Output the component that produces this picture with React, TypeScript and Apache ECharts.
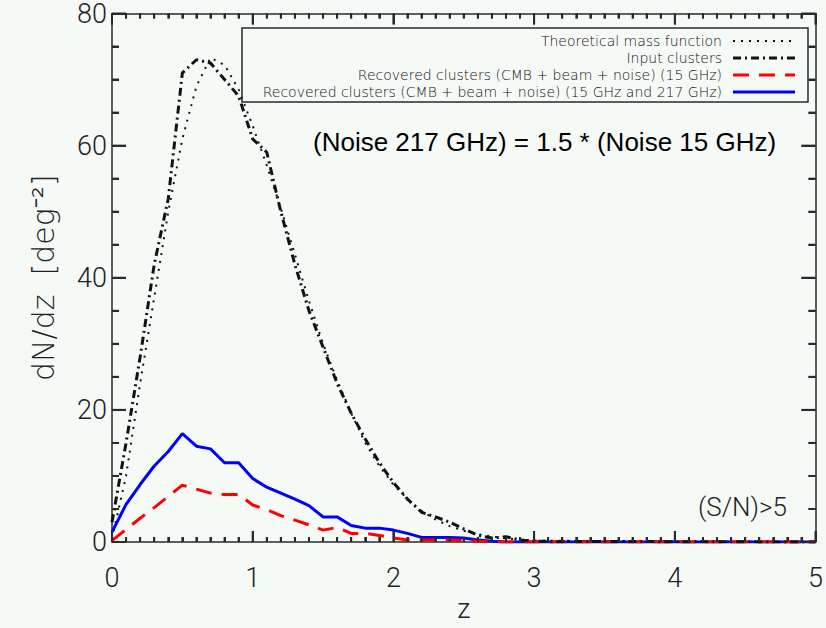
import React, { useEffect, useRef } from "react";
import * as echarts from "echarts";

// redshift grid (z) of the curves
const zValues = [
  0, 0.1, 0.2, 0.3, 0.4, 0.5, 0.6, 0.7, 0.8, 0.9,
  1.0, 1.1, 1.2, 1.3, 1.4, 1.5, 1.6, 1.7, 1.8, 1.9,
  2.0, 2.1, 2.2, 2.3, 2.4, 2.5, 2.6, 2.7, 2.8, 2.9,
  3.0, 5.0,
];

const theoretical = [
  0.5, 10, 24, 37, 50, 61, 69, 73.3, 72.2, 68.5,
  63, 57, 50.5, 43.5, 36.5, 30, 24.5, 19.5, 15, 11.5,
  8.7, 6.5, 4.7, 3.4, 2.4, 1.7, 1.2, 0.8, 0.55, 0.38,
  0.2, 0,
];

const inputClusters = [
  3, 15, 28, 42, 52, 71, 73, 72.5, 70, 67.5,
  61, 59, 50, 42, 35, 29.5, 24, 19.5, 15.6, 12,
  9, 6.5, 4.5, 3.8, 3, 2, 1, 0.6, 0.8, 0.3,
  0.1, 0,
];

const recovered15 = [
  0.2, 1.9, 3.6, 5.2, 6.9, 8.6, 8.0, 7.4, 7.2, 7.2,
  5.6, 4.9, 4.0, 3.3, 2.6, 1.8, 2.2, 1.3, 1.3, 1.0,
  0.6, 0.3, 0.3, 0.3, 0.3, 0.2, 0.1, 0, 0, 0,
  0, 0,
];

const recovered15and217 = [
  1.5, 5.7, 8.7, 11.5, 13.7, 16.4, 14.5, 14.1, 12.0, 12.0,
  9.6, 8.3, 7.4, 6.5, 5.5, 3.8, 3.8, 2.5, 2.1, 2.1,
  1.8, 1.3, 0.7, 0.7, 0.7, 0.6, 0.3, 0.1, 0, 0,
  0, 0,
];

const legendLabels = [
  "Theoretical mass function",
  "Input clusters",
  "Recovered clusters (CMB + beam + noise) (15 GHz)",
  "Recovered clusters (CMB + beam + noise) (15 GHz and 217 GHz)",
];

const xRange = { min: 0, max: 5, interval: 1, minorSteps: 10 };
const yRange = { min: 0, max: 80, interval: 20, minorSteps: 4 };

const yTitle = "dN/dz  [deg⁻²]";
const xTitle = "z";
const annotation = "(Noise 217 GHz) = 1.5 * (Noise 15 GHz)";
const snLabel = "(S/N)>5";

const BG = "#f6faf7";
const AXIS = "#2a2a2a";
const THIN_FONT = "Roboto";
const WIDE_FONT = "DejaVu Sans";

const pairs = (ys: number[]) => zValues.map((z, i) => [z, ys[i]]);

// tick positions (major + minor) for the inward-pointing box ticks
function tickList(r: { min: number; max: number; interval: number; minorSteps: number }) {
  const out: { v: number; major: boolean }[] = [];
  const n = Math.round((r.max - r.min) / r.interval) * r.minorSteps;
  for (let i = 0; i <= n; i++) {
    out.push({ v: r.min + (i * r.interval) / r.minorSteps, major: i % r.minorSteps === 0 });
  }
  return out;
}

export default function App() {
  const ref = useRef<HTMLDivElement>(null);

  useEffect(() => {
    if (!ref.current) return;
    const chart = echarts.init(ref.current, undefined, { renderer: "svg" });

    const legendRows = [41, 58, 75, 92];
    const legendStyles = [
      { stroke: "#111", lineWidth: 2, lineDash: [2, 6] },
      { stroke: "#111", lineWidth: 3, lineDash: [8, 4, 2, 4] },
      { stroke: "#ff0000", lineWidth: 3, lineDash: [16, 10] },
      { stroke: "#0000ff", lineWidth: 3 },
    ];

    const graphics: any[] = [
      {
        type: "rect",
        shape: { x: 242, y: 28, width: 566, height: 74 },
        style: { fill: "transparent", stroke: AXIS, lineWidth: 1.5 },
      },
    ];
    legendLabels.forEach((t, i) => {
      graphics.push({
        type: "text",
        x: 722,
        y: legendRows[i],
        style: {
          text: t,
          align: "right",
          verticalAlign: "middle",
          fontSize: 14,
          fontFamily: WIDE_FONT,
          fontWeight: 200,
          fill: "#111",
        },
      });
      graphics.push({
        type: "line",
        shape: { x1: 733, y1: legendRows[i], x2: 795, y2: legendRows[i] },
        style: { ...legendStyles[i] },
      });
    });
    graphics.push({
      type: "text",
      x: 313,
      y: 142,
      style: {
        text: annotation,
        align: "left",
        verticalAlign: "middle",
        fontSize: 26,
        fontFamily: "Liberation Sans",
        fill: "#000",
      },
    });
    graphics.push({
      type: "text",
      x: 698,
      y: 507,
      style: {
        text: snLabel,
        align: "left",
        verticalAlign: "middle",
        fontSize: 26,
        fontFamily: THIN_FONT,
        fontWeight: 300,
        fill: "#222",
      },
    });

    const xt = tickList(xRange);
    const yt = tickList(yRange);

    const labelStyle = {
      show: true,
      fontSize: 27,
      fontFamily: THIN_FONT,
      fontWeight: 300,
      color: "#222",
    };

    const option: any = {
      animation: false,
      backgroundColor: BG,
      grid: { left: 112, right: 7, top: 11, bottom: 86 },
      xAxis: [
        {
          type: "value",
          position: "bottom",
          min: xRange.min,
          max: xRange.max,
          interval: xRange.interval,
          name: xTitle,
          nameLocation: "middle",
          nameGap: 50,
          nameTextStyle: { fontSize: 27, fontFamily: THIN_FONT, fontWeight: 300, color: "#222" },
          axisLine: { show: true, onZero: false, lineStyle: { color: AXIS, width: 1.5 } },
          axisTick: { show: true, inside: true, length: 11, lineStyle: { color: AXIS, width: 2 } },
          minorTick: { show: true, splitNumber: 10, length: 5, lineStyle: { color: AXIS, width: 2 } },
          splitLine: { show: false },
          axisLabel: { ...labelStyle, margin: 22 },
        },
        {
          type: "value",
          position: "top",
          min: xRange.min,
          max: xRange.max,
          interval: xRange.interval,
          axisLine: { show: true, onZero: false, lineStyle: { color: AXIS, width: 1.5 } },
          axisTick: { show: true, inside: true, length: 11, lineStyle: { color: AXIS, width: 2 } },
          minorTick: { show: true, splitNumber: 10, length: 5, lineStyle: { color: AXIS, width: 2 } },
          splitLine: { show: false },
          axisLabel: { show: false },
        },
      ],
      yAxis: [
        {
          type: "value",
          position: "left",
          min: yRange.min,
          max: yRange.max,
          interval: yRange.interval,
          name: yTitle,
          nameLocation: "middle",
          nameGap: 54,
          nameTextStyle: { fontSize: 30, fontFamily: WIDE_FONT, fontWeight: 200, color: "#222" },
          axisLine: { show: true, onZero: false, lineStyle: { color: AXIS, width: 1.5 } },
          axisTick: { show: true, inside: true, length: 14, lineStyle: { color: AXIS, width: 2 } },
          minorTick: { show: true, splitNumber: 4, length: 7, lineStyle: { color: AXIS, width: 2 } },
          splitLine: { show: false },
          axisLabel: { ...labelStyle, margin: 5 },
        },
        {
          type: "value",
          position: "right",
          min: yRange.min,
          max: yRange.max,
          interval: yRange.interval,
          axisLine: { show: true, onZero: false, lineStyle: { color: AXIS, width: 1.5 } },
          axisTick: { show: true, inside: true, length: 14, lineStyle: { color: AXIS, width: 2 } },
          minorTick: { show: true, splitNumber: 4, length: 7, lineStyle: { color: AXIS, width: 2 } },
          splitLine: { show: false },
          axisLabel: { show: false },
        },
      ],
      series: [
        {
          // inward ticks on bottom and top edges, placed through the x scale
          type: "custom",
          clip: false,
          data: xt.map((t) => [t.v, t.major ? 1 : 0]),
          encode: { x: 0, y: 1 },
          renderItem: (params: any, api: any) => {
            const v = api.value(0);
            const len = api.value(1) ? 11 : 5;
            const b = api.coord([v, yRange.min]);
            const t = api.coord([v, yRange.max]);
            return {
              type: "group",
              children: [
                { type: "line", shape: { x1: b[0], y1: b[1], x2: b[0], y2: b[1] - len }, style: { stroke: AXIS, lineWidth: 2 } },
                { type: "line", shape: { x1: t[0], y1: t[1], x2: t[0], y2: t[1] + len }, style: { stroke: AXIS, lineWidth: 2 } },
              ],
            };
          },
          z: 20,
        },
        {
          // inward ticks on left and right edges, placed through the y scale
          type: "custom",
          clip: false,
          data: yt.map((t) => [t.major ? 1 : 0, t.v]),
          encode: { x: 0, y: 1 },
          renderItem: (params: any, api: any) => {
            const v = api.value(1);
            const len = api.value(0) ? 14 : 7;
            const l = api.coord([xRange.min, v]);
            const r = api.coord([xRange.max, v]);
            return {
              type: "group",
              children: [
                { type: "line", shape: { x1: l[0], y1: l[1], x2: l[0] + len, y2: l[1] }, style: { stroke: AXIS, lineWidth: 2 } },
                { type: "line", shape: { x1: r[0], y1: r[1], x2: r[0] - len, y2: r[1] }, style: { stroke: AXIS, lineWidth: 2 } },
              ],
            };
          },
          z: 20,
        },
        {
          name: legendLabels[0],
          type: "line",
          data: pairs(theoretical),
          showSymbol: false,
          lineStyle: { color: "#111", width: 2, type: [2, 6] },
        },
        {
          name: legendLabels[3],
          type: "line",
          data: pairs(recovered15and217),
          showSymbol: false,
          lineStyle: { color: "#0000ff", width: 3, type: "solid" },
        },
        {
          name: legendLabels[2],
          type: "line",
          data: pairs(recovered15),
          showSymbol: false,
          lineStyle: { color: "#ff0000", width: 3, type: [16, 10] },
        },
        {
          name: legendLabels[1],
          type: "line",
          data: pairs(inputClusters),
          showSymbol: false,
          lineStyle: { color: "#111", width: 3, type: [8, 4, 2, 4] },
        },
      ],
      graphic: graphics,
    };

    chart.setOption(option);
    return () => chart.dispose();
  }, []);

  return (
    <div
      ref={ref}
      style={{ position: "fixed", left: 0, top: 0, width: 826, height: 628 }}
    />
  );
}
